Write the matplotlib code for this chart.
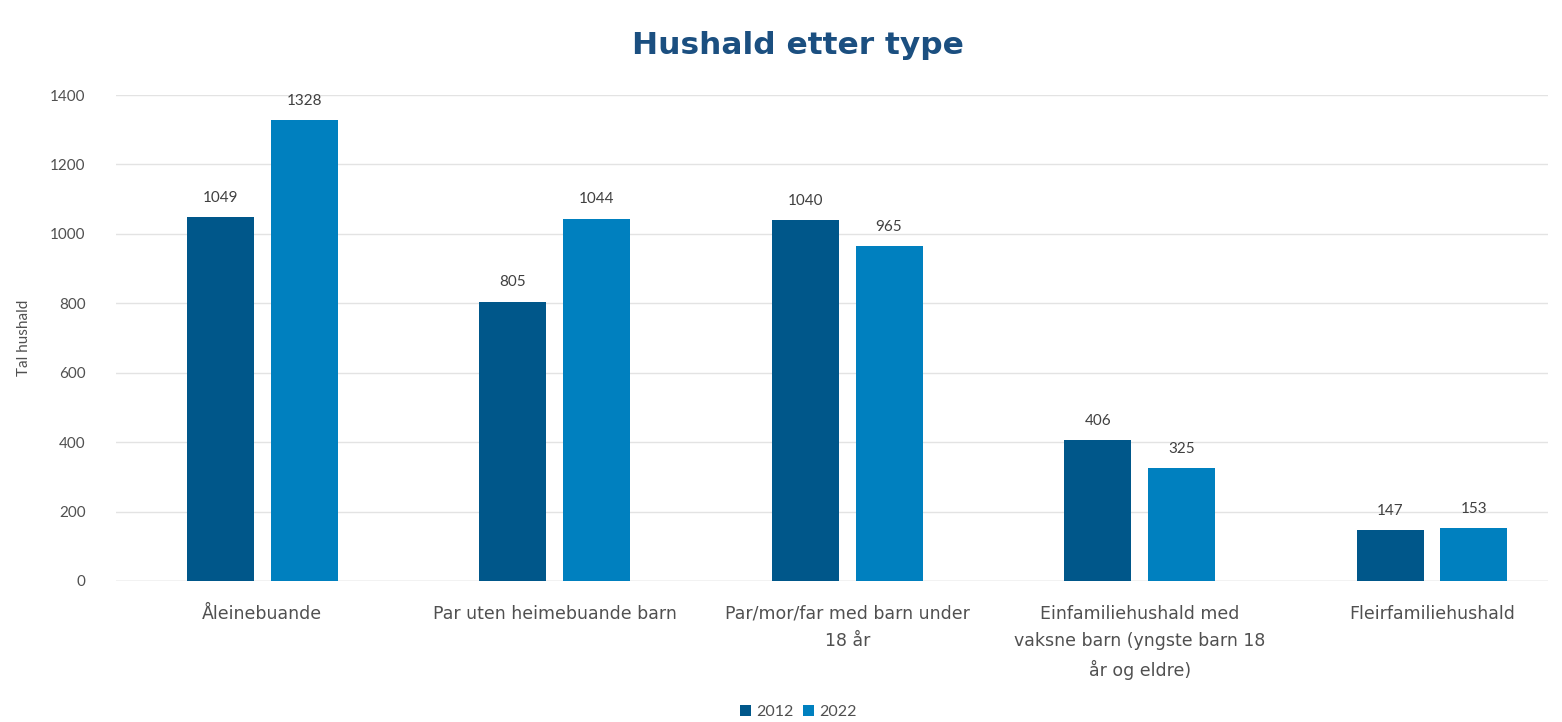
import numpy as np
import matplotlib
matplotlib.use("Agg")
import matplotlib.pyplot as plt

plt.rcParams['font.family'] = ['Lato', 'DejaVu Sans']

categories = ["Åleinebuande",
              "Par uten heimebuande barn",
              "Par/mor/far med barn under\n18 år",
              "Einfamiliehushald med\nvaksne barn (yngste barn 18\når og eldre)",
              "Fleirfamiliehushald"]
years = ["2012", "2022"]
v2012 = [1049, 805, 1040, 406, 147]
v2022 = [1328, 1044, 965, 325, 153]
colors = ["#00578a", "#0080bf"]

fig = plt.figure(figsize=(15.62, 7.22), dpi=100)
ax = fig.add_axes([0.0743, 0.1953, 0.9167, 0.6731])

x = np.arange(len(categories))
w = 0.229
off = 0.143
for vals, c, lab, d in zip([v2012, v2022], colors, years, [-off, off]):
    bars = ax.bar(x + d, vals, w, color=c, label=lab, zorder=3)
    for b, v in zip(bars, vals):
        ax.text(b.get_x() + b.get_width() / 2, v + 35, str(v), ha='center', va='bottom',
                fontsize=11, color='#404040')

ax.set_xlim(-0.5, 4.396)
ax.set_ylim(0, 1400)
ax.set_yticks(range(0, 1401, 200))
ax.yaxis.grid(True, color='#e3e3e3', linewidth=1, zorder=0)
ax.set_xticks(x)
ax.set_xticklabels(categories, fontsize=12.5, color='#505050', linespacing=1.65,
                   family=['DejaVu Sans'])
ax.tick_params(axis='y', labelsize=11, labelcolor='#505050', length=0, pad=22)
ax.tick_params(axis='x', length=0, pad=17)
for s in ax.spines.values():
    s.set_visible(False)
ax.axhline(0, color='#d9d9d9', linewidth=1, zorder=2)
ax.set_ylabel("Tal hushald", fontsize=11, color='#505050', labelpad=14)

fig.suptitle("Hushald etter type", x=0.511, y=0.957, fontsize=22.5, fontweight='bold',
             color='#1b4f80', family=['DejaVu Sans'])
fig.legend(loc='lower center', bbox_to_anchor=(0.511, -0.016), ncol=2, frameon=False,
           fontsize=11.5, handlelength=0.7, handleheight=0.7, columnspacing=0.6,
           handletextpad=0.3, labelcolor='#505050')

fig.savefig("out.png", dpi=100, facecolor='white')
